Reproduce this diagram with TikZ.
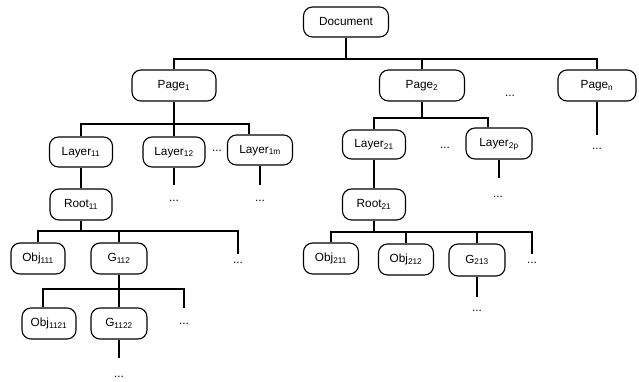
\documentclass[tikz,border=0pt]{standalone}
\usepackage{fontspec}
\setmainfont{Liberation Sans}
\tikzset{
    box/.style={draw, rounded corners=9bp, line width=1.15bp, minimum height=31bp, inner sep=1bp,
        text height=8.5bp, text depth=2.5bp, font=\fontsize{11.8bp}{14bp}\selectfont},
    more/.style={anchor=base, inner sep=0pt, font=\fontsize{11.8bp}{14bp}\selectfont},
    link/.style={line width=1.15bp}
}
\begin{document}
\begin{tikzpicture}[x=1bp, y=-1bp]

    \useasboundingbox (0,0) rectangle (639,381);

    \node[box, minimum width=85bp, minimum height=30bp] (doc) at (346,22) {Document};

    \node[box, minimum width=84bp] (page1) at (174,85.5) {Page\textsubscript{1}};
    \node[box, minimum width=85bp] (page2) at (422,85.5) {Page\textsubscript{2}};
    \node[box, minimum width=78bp] (pagen) at (597,85.5) {Page\textsubscript{n}};
    \node[more] (dp) at (510,96) {...};

    \coordinate (j0) at (346,59);
    \draw[link] (doc) -- (j0);
    \draw[link] (page1) |- (j0) -| (pagen);
    \draw[link] (page2) -- (page2 |- j0);

    \coordinate (en) at (597,135);
    \draw[link] (pagen) -- (en);
    \node[more] (dn) at (597,149) {...};

    % first page
    \node[box, minimum width=63bp, minimum height=30bp] (layer11) at (81,152) {Layer\textsubscript{11}};
    \node[box, minimum width=62bp, minimum height=30bp] (layer12) at (174,152) {Layer\textsubscript{12}};
    \node[box, minimum width=65bp, minimum height=30bp] (layer1m) at (260,150) {Layer\textsubscript{1m}};
    \node[more] (d1) at (217,151) {...};

    \coordinate (j1) at (174,124);
    \draw[link] (page1) -- (j1);
    \draw[link] (layer11) |- (j1) -- (layer12);
    \draw[link] (j1) -| ([xshift=-11bp]layer1m.north);

    \coordinate (e12) at (174,185);
    \coordinate (e1m) at (260,185);
    \draw[link] (layer12) -- (e12);
    \draw[link] (layer1m) -- (e1m);
    \node[more] (d12) at (174,201) {...};
    \node[more] (d1m) at (260,201) {...};

    \node[box, minimum width=62bp] (root11) at (81,204.5) {Root\textsubscript{11}};
    \draw[link] (layer11) -- (root11);

    \node[box, minimum width=54bp] (obj111) at (38,258.5) {Obj\textsubscript{111}};
    \node[box, minimum width=56bp] (g112) at (119,258.5) {G\textsubscript{112}};

    \coordinate (j2) at (81,231);
    \coordinate (e113) at (238,254);
    \draw[link] (root11) -- (j2);
    \draw[link] (obj111) |- (j2) -| (e113);
    \draw[link] (g112) -- (g112 |- j2);
    \node[more] (d113) at (238,263) {...};

    \node[box, minimum width=54bp] (obj1121) at (49,323.5) {Obj\textsubscript{1121}};
    \node[box, minimum width=56bp] (g1122) at (119,323.5) {G\textsubscript{1122}};

    \coordinate (j3) at (119,289);
    \coordinate (e1123) at (184,308);
    \draw[link] (g112) -- (j3);
    \draw[link] ([xshift=-6bp]obj1121.north) |- (j3) -| (e1123);
    \draw[link] (j3) -- (g1122);
    \node[more] (d1123) at (184,324) {...};

    \coordinate (e1122) at (119,358);
    \draw[link] (g1122) -- (e1122);
    \node[more] (d1122) at (119,377) {...};

    % second page
    \node[box, minimum width=63bp, minimum height=29bp] (layer21) at (374,144.5) {Layer\textsubscript{21}};
    \node[box, minimum width=66bp] (layer2p) at (499,143.5) {Layer\textsubscript{2p}};
    \node[more] (d2) at (445,148) {...};

    \coordinate (j4) at (422,118);
    \draw[link] (page2) -- (j4);
    \draw[link] (layer21) |- (j4) -| ([xshift=-11bp]layer2p.north);

    \coordinate (e2p) at (499,178);
    \draw[link] (layer2p) -- (e2p);
    \node[more] (d2p) at (498,197) {...};

    \node[box, minimum width=63bp] (root21) at (374,204.5) {Root\textsubscript{21}};
    \draw[link] (layer21) -- (root21);

    \node[box, minimum width=55bp] (obj211) at (331,258.5) {Obj\textsubscript{211}};
    \node[box, minimum width=55bp] (obj212) at (406,259.5) {Obj\textsubscript{212}};
    \node[box, minimum width=56bp, minimum height=32bp] (g213) at (477,260) {G\textsubscript{213}};

    \coordinate (j5) at (374,232);
    \coordinate (e214) at (532,254);
    \draw[link] (root21) -- (j5);
    \draw[link] (obj211) |- (j5) -| (e214);
    \draw[link] (obj212) -- (obj212 |- j5);
    \draw[link] (g213) -- (g213 |- j5);
    \node[more] (d214) at (532,263) {...};

    \coordinate (e2131) at (477,297);
    \draw[link] (g213) -- (e2131);
    \node[more] (d2131) at (477,311) {...};

\end{tikzpicture}
\end{document}
